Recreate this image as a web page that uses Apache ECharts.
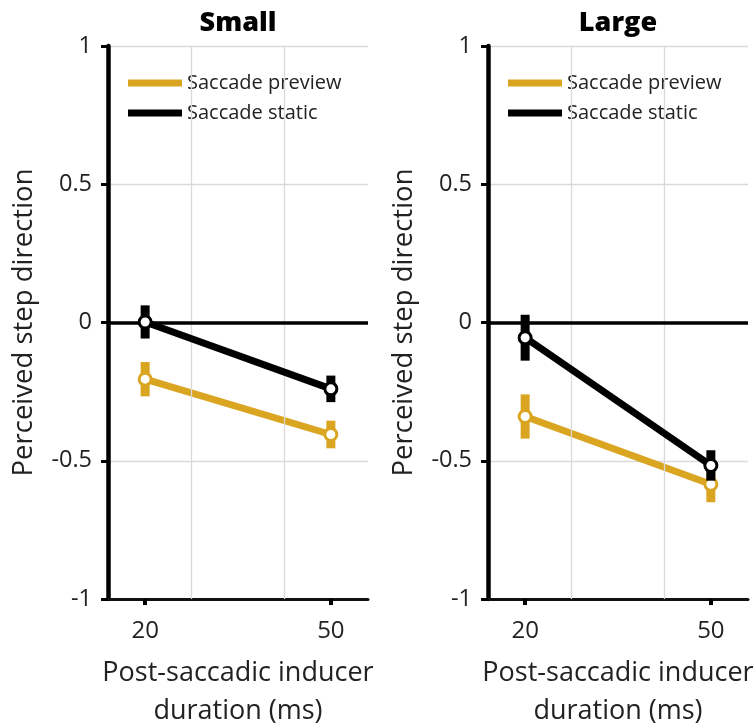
<!DOCTYPE html>
<html>
<head>
<meta charset="utf-8">
<script src="https://cdn.jsdelivr.net/npm/echarts@6/dist/echarts.min.js"></script>
<style>html,body{margin:0;padding:0;background:#fff}#c{width:754px;height:726px}</style>
</head>
<body>
<div id="c"></div>
<script>
// ---- data ----
var panelTitles = ['Small', 'Large'];
var seriesNames = ['Saccade preview', 'Saccade static'];
var xPositions = [1, 2];
var durationLabels = ['20', '50'];
var yTickValues = [-1, -0.5, 0, 0.5, 1];
var yTickLabels = ['-1', '-0.5', '0', '0.5', '1'];
var xGridValues = [1.25, 1.75];

var smallPreviewMean = [-0.205, -0.405];
var smallPreviewErr  = [0.062, 0.050];
var smallStaticMean  = [0.002, -0.240];
var smallStaticErr   = [0.060, 0.048];

var largePreviewMean = [-0.340, -0.585];
var largePreviewErr  = [0.080, 0.065];
var largeStaticMean  = [-0.055, -0.517];
var largeStaticErr   = [0.083, 0.055];

// ---- styling ----
var GOLD = '#DAA520';
var BLACK = '#000000';
var FONT = 'Open Sans';

var chart = echarts.init(document.getElementById('c'));

var grids = [
  {left: 108, top: 46, width: 260, height: 553, outerBoundsMode: 'none', containLabel: false},
  {left: 488, top: 46, width: 260, height: 553, outerBoundsMode: 'none', containLabel: false}
];

function meanPts(m) { return xPositions.map(function (x, i) { return [x, m[i]]; }); }
function errPts(m, e) { return xPositions.map(function (x, i) { return [x, m[i] - e[i], m[i] + e[i]]; }); }

function errSeries(idx, m, e, color, z, extra) {
  var s = {
    type: 'custom', name: 'err' + idx + color, xAxisIndex: idx, yAxisIndex: idx, z: z,
    silent: true,
    encode: {x: 0, y: [1, 2]},
    data: errPts(m, e),
    renderItem: function (params, api) {
      var x = api.value(0), lo = api.value(1), hi = api.value(2);
      var p1 = api.coord([x, hi]), p2 = api.coord([x, lo]);
      var w = 9;
      return {type: 'rect', shape: {x: p1[0] - w / 2, y: p1[1], width: w, height: p2[1] - p1[1]}, style: {fill: color}};
    }
  };
  if (extra) s.markLine = extra;
  return s;
}
function lineSeries(idx, name, m, color, z) {
  return {
    type: 'line', name: name, xAxisIndex: idx, yAxisIndex: idx, z: z,
    data: meanPts(m), symbol: 'circle', symbolSize: 12,
    lineStyle: {color: color, width: 7},
    itemStyle: {color: '#fff', borderColor: color, borderWidth: 3},
    emphasis: {disabled: true}, animation: false
  };
}
function refLines() {
  var d = xGridValues.map(function (v) { return {xAxis: v, lineStyle: {color: '#d9d9d9', width: 1.3, type: 'solid'}}; });
  d.push({yAxis: 0, lineStyle: {color: '#000', width: 3.5, type: 'solid'}});
  return {silent: true, symbol: ['none', 'none'], label: {show: false}, animation: false, data: d};
}

var legendColors = [GOLD, BLACK];
var xAxes = [], yAxes = [], titles = [], legends = [], series = [];
[0, 1].forEach(function (i) {
  var g = grids[i];
  xAxes.push({
    type: 'value', gridIndex: i, min: 0.8, max: 2.2,
    axisLine: {show: true, onZero: false, lineStyle: {color: '#111', width: 3}},
    axisTick: {show: true, customValues: xPositions, length: 6, lineStyle: {color: '#000', width: 4}},
    axisLabel: {customValues: xPositions, margin: 20, fontFamily: FONT, fontSize: 24, color: '#222',
      formatter: function (v) { var k = xPositions.indexOf(v); return k >= 0 ? durationLabels[k] : ''; }},
    splitLine: {show: false},
    name: 'Post-saccadic inducer\nduration (ms)', nameLocation: 'middle', nameGap: 55,
    nameTextStyle: {fontFamily: FONT, fontSize: 27, color: '#222', lineHeight: 38}
  });
  yAxes.push({
    type: 'value', gridIndex: i, min: -1, max: 1, interval: 0.25,
    axisLine: {show: true, lineStyle: {color: '#000', width: 4.5}},
    axisTick: {show: true, customValues: yTickValues, length: 7, lineStyle: {color: '#000', width: 3}},
    axisLabel: {customValues: yTickValues, margin: 16, fontFamily: FONT, fontSize: 23.5, color: '#222',
      formatter: function (v) { var k = yTickValues.indexOf(v); return k >= 0 ? yTickLabels[k] : ''; }},
    splitLine: {show: true, lineStyle: {color: '#d9d9d9', width: 1.3}},
    name: 'Perceived step direction', nameLocation: 'middle', nameGap: 70,
    nameTextStyle: {fontFamily: FONT, fontSize: 27.5, color: '#222'}
  });
  titles.push({
    text: panelTitles[i], left: g.left + g.width / 2 - 5, top: 5, textAlign: 'center',
    textStyle: {fontFamily: FONT, fontSize: 27, fontWeight: 800, color: '#000'}
  });
  legends.push({
    data: seriesNames.map(function (n, k) { return {name: n, itemStyle: {color: legendColors[k], borderWidth: 0}}; }),
    left: g.left + 15, top: 68, orient: 'vertical',
    icon: 'rect', itemWidth: 54, itemHeight: 7, itemGap: 10, selectedMode: false,
    textStyle: {fontFamily: FONT, fontSize: 20, color: '#222'}
  });
});

var panelData = [
  [smallPreviewMean, smallPreviewErr, smallStaticMean, smallStaticErr],
  [largePreviewMean, largePreviewErr, largeStaticMean, largeStaticErr]
];
[0, 1].forEach(function (i) {
  var d = panelData[i];
  series.push(errSeries(i, d[0], d[1], GOLD, 2, refLines()));
  series.push(lineSeries(i, seriesNames[0], d[0], GOLD, 3));
  series.push(errSeries(i, d[2], d[3], BLACK, 4));
  series.push(lineSeries(i, seriesNames[1], d[2], BLACK, 5));
});

chart.setOption({
  animation: false,
  backgroundColor: '#fff',
  grid: grids,
  xAxis: xAxes,
  yAxis: yAxes,
  title: titles,
  legend: legends,
  series: series
});
</script>
</body>
</html>
